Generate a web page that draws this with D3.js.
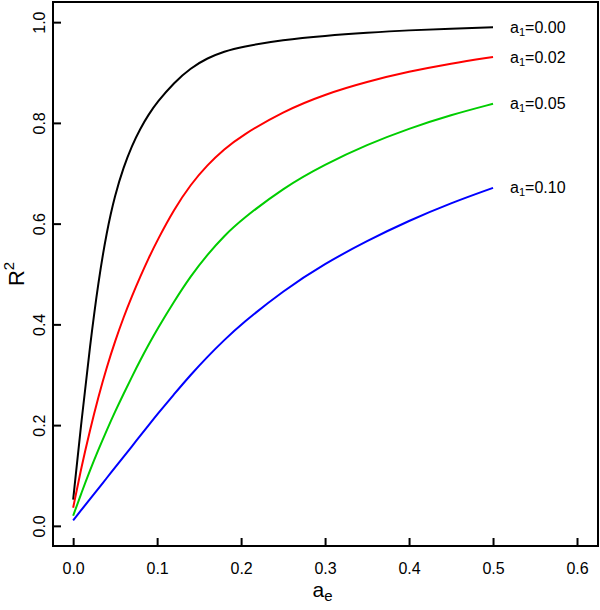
<!DOCTYPE html>
<html>
<head>
<meta charset="utf-8">
<script src="https://cdn.jsdelivr.net/npm/d3@7/dist/d3.min.js"></script>
<style>
  html, body { margin: 0; padding: 0; background: #fff; }
  svg { display: block; font-family: "Liberation Sans", Arial, sans-serif; }
</style>
</head>
<body>
<svg id="chart" width="600" height="610"></svg>
<script>
// ---- data ----
const aeValues = [0, 0.01, 0.02, 0.03, 0.04, 0.05, 0.06, 0.07, 0.08, 0.09, 0.10,
                  0.12, 0.14, 0.16, 0.18, 0.20, 0.25, 0.30, 0.35, 0.40, 0.45, 0.50];
const r2_a1_000 = [0.052, 0.21, 0.357, 0.485, 0.585, 0.658, 0.712, 0.755, 0.789, 0.817, 0.841,
                   0.880, 0.909, 0.929, 0.942, 0.951, 0.965, 0.973, 0.979, 0.984, 0.987, 0.990];
const r2_a1_002 = [0.036, 0.118, 0.19, 0.256, 0.315, 0.367, 0.414, 0.456, 0.495, 0.532, 0.566,
                   0.628, 0.678, 0.717, 0.748, 0.774, 0.823, 0.857, 0.882, 0.902, 0.918, 0.931];
const r2_a1_005 = [0.020, 0.066, 0.11, 0.151, 0.19, 0.227, 0.262, 0.296, 0.329, 0.36, 0.39,
                   0.445, 0.496, 0.539, 0.576, 0.607, 0.671, 0.718, 0.757, 0.789, 0.816, 0.838];
const r2_a1_010 = [0.011, 0.032, 0.053, 0.074, 0.095, 0.116, 0.137, 0.158, 0.179, 0.2, 0.221,
                   0.261, 0.3, 0.336, 0.369, 0.4, 0.467, 0.521, 0.566, 0.606, 0.641, 0.671];
const seriesLabels = ["0.00", "0.02", "0.05", "0.10"];
const seriesColors = ["#000000", "#ff0000", "#00cd00", "#0000ff"];
const xTicks = [0, 0.1, 0.2, 0.3, 0.4, 0.5, 0.6];
const yTicks = [0, 0.2, 0.4, 0.6, 0.8, 1.0];

const seriesValues = [r2_a1_000, r2_a1_002, r2_a1_005, r2_a1_010];

// ---- layout ----
const svg = d3.select("#chart");
const pLeft = 53, pRight = 598, pTop = 2, pBottom = 546;

const x = d3.scaleLinear().domain([-0.024, 0.625]).range([pLeft, pRight]);
const y = d3.scaleLinear().domain([-0.04, 1.04]).range([pBottom, pTop]);

// curves
const line = d3.line()
  .x(d => x(d[0]))
  .y(d => y(d[1]))
  .curve(d3.curveBasis);

seriesValues.forEach((vals, i) => {
  const pts = aeValues.map((a, j) => [a, vals[j]]);
  svg.append("path")
    .datum(pts)
    .attr("d", line)
    .attr("fill", "none")
    .attr("stroke", seriesColors[i])
    .attr("stroke-width", 2);

  const last = pts[pts.length - 1];
  const t = svg.append("text")
    .attr("x", x(last[0]) + 17)
    .attr("y", y(last[1]))
    .attr("dy", "0.35em")
    .attr("font-size", 16)
    .attr("fill", "#000");
  t.append("tspan").text("a");
  t.append("tspan").attr("font-size", 11).attr("dy", 3).text("1");
  t.append("tspan").attr("dy", -3).text("=" + seriesLabels[i]);
});

// axes with inward ticks
const xAxis = d3.axisBottom(x).tickValues(xTicks).tickFormat(d3.format(".1f"))
  .tickSize(-8);
const gx = svg.append("g").attr("transform", `translate(0,${pBottom})`).call(xAxis);
gx.select(".domain").remove();
gx.selectAll(".tick line").attr("stroke", "#000").attr("stroke-width", 2);
gx.selectAll(".tick text").attr("font-size", 16).attr("fill", "#000")
  .attr("font-family", "Liberation Sans, Arial, sans-serif")
  .attr("dy", null).attr("y", 28);

const yAxis = d3.axisLeft(y).tickValues(yTicks).tickFormat(d3.format(".1f"))
  .tickSize(-8);
const gy = svg.append("g").attr("transform", `translate(${pLeft},0)`).call(yAxis);
gy.select(".domain").remove();
gy.selectAll(".tick line").attr("stroke", "#000").attr("stroke-width", 2);
gy.selectAll(".tick text")
  .attr("font-size", 16).attr("fill", "#000")
  .attr("font-family", "Liberation Sans, Arial, sans-serif")
  .attr("x", null).attr("dy", null)
  .attr("text-anchor", "middle")
  .attr("transform", `translate(${45 - pLeft},0) rotate(-90)`);

// box
svg.append("rect")
  .attr("x", pLeft).attr("y", pTop)
  .attr("width", pRight - pLeft).attr("height", pBottom - pTop)
  .attr("fill", "none").attr("stroke", "#000").attr("stroke-width", 2);

// axis titles
const xt = svg.append("text")
  .attr("x", (pLeft + pRight) / 2 - 3).attr("y", 597)
  .attr("text-anchor", "middle").attr("font-size", 21).attr("fill", "#000");
xt.append("tspan").text("a");
xt.append("tspan").attr("font-size", 15).attr("dy", 4).text("e");

const yt = svg.append("text")
  .attr("transform", `translate(24,${(pTop + pBottom) / 2}) rotate(-90)`)
  .attr("text-anchor", "middle").attr("font-size", 22).attr("fill", "#000");
yt.append("tspan").text("R");
yt.append("tspan").attr("font-size", 15).attr("dy", -10).text("2");
</script>
</body>
</html>
